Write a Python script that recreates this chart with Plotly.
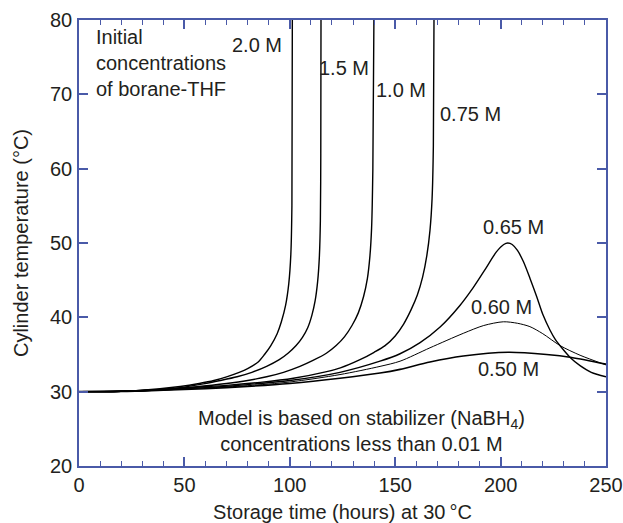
import plotly.graph_objects as go

# hours, temperature (°C)
x_20 = [0, 16, 30, 48, 57, 64, 70, 76, 80, 85, 88, 91, 94, 96, 98, 99.5, 100.5, 101, 101.2]
y_20 = [30, 30.03, 30.2, 30.7, 31.1, 31.5, 32.0, 32.6, 33.1, 34.0, 35.0, 36.2, 37.8, 39.4, 41.6, 44.5, 48.5, 55, 80]

x_15 = [0, 16, 30, 48, 59, 67, 75, 82, 89, 95, 99.3, 103, 106, 108.5, 110.5, 112, 113.2, 114, 114.5, 114.7, 114.8]
y_15 = [30, 30.03, 30.15, 30.55, 31.05, 31.5, 32.0, 32.6, 33.4, 34.3, 35.2, 36.2, 37.3, 38.6, 40.3, 42.2, 44.8, 48.0, 53, 62, 80]

x_10 = [0, 20, 40, 55, 70, 80, 89, 97, 104.8, 111, 117.5, 122, 126, 129.5, 132.5, 135, 136.8, 138, 138.8, 139.4, 139.9]
y_10 = [30, 30.05, 30.3, 30.65, 31.1, 31.5, 32.0, 32.6, 33.4, 34.2, 35.2, 36.2, 37.4, 38.9, 40.6, 42.8, 45.2, 48.2, 52, 60, 80]

x_075 = [0, 20, 40, 55, 70, 85.9, 101.7, 117.5, 124, 133.3, 140, 145.2, 150, 154, 157.5, 160.5, 163, 165, 166.5, 167.5, 168.1, 168.4]
y_075 = [30, 30.05, 30.3, 30.6, 30.85, 31.25, 31.8, 32.7, 33.2, 34.3, 35.3, 36.2, 37.5, 39.1, 41.0, 43.0, 45.4, 48.3, 51.7, 56, 63, 80]

x_065 = [0, 20, 40, 60, 80, 100, 123.8, 142.8, 152.3, 161.8, 171.3, 180.7, 187, 193, 198, 201.5, 203.4, 205.5, 208, 210.8, 214, 217.1, 220, 223.4, 226, 229, 233, 237.7, 243, 250]
y_065 = [30, 30.05, 30.25, 30.55, 30.95, 31.5, 32.6, 34.1, 35.1, 36.6, 38.7, 41.6, 44.0, 46.6, 48.8, 49.8, 50.0, 49.8, 49.0, 47.5, 45.2, 42.8, 40.4, 38.3, 37.0, 35.9, 34.6, 33.5, 32.6, 32.0]

x_060 = [0, 20, 40, 60, 80, 100, 123.8, 142.8, 152.3, 166.5, 182.3, 192, 201.3, 208, 213.9, 220, 228.2, 237.7, 250]
y_060 = [30, 30.04, 30.22, 30.5, 30.8, 31.3, 32.3, 33.4, 34.1, 35.9, 37.85, 38.9, 39.4, 39.2, 38.75, 37.8, 36.2, 34.9, 33.6]

x_050 = [0, 20, 40, 60, 80, 100, 123.8, 142.8, 152.3, 166.5, 182.3, 203.7, 221.8, 233.7, 250]
y_050 = [30, 30.03, 30.2, 30.4, 30.7, 31.1, 31.8, 32.5, 33.0, 34.0, 34.8, 35.3, 35.0, 34.6, 33.7]

series = [(x_20, y_20, 1.4), (x_15, y_15, 1.4), (x_10, y_10, 1.4), (x_075, y_075, 1.4),
          (x_065, y_065, 1.4), (x_060, y_060, 1.0), (x_050, y_050, 1.6)]

labels = ["2.0 M", "1.5 M", "1.0 M", "0.75 M", "0.65 M", "0.60 M", "0.50 M"]
label_x = [84.4, 125.8, 152.8, 185.5, 205.9, 200.5, 203.7]
label_y = [76.6, 73.5, 70.6, 67.3, 52.2, 41.35, 33.0]

x_ticks = [0, 50, 100, 150, 200, 250]
y_ticks = [20, 30, 40, 50, 60, 70, 80]

FONT = "Liberation Sans, Arial, Helvetica, sans-serif"
TXT = "#231f20"
AX = "#4a5aa8"
FS = 20

fig = go.Figure()
for xs, ys, w in series:
    fig.add_trace(go.Scatter(x=xs, y=ys, mode="lines",
                             line=dict(color="black", width=w, shape="spline", smoothing=0.8),
                             showlegend=False, hoverinfo="skip"))

for t, lx, ly in zip(labels, label_x, label_y):
    fig.add_annotation(x=lx, y=ly, text=t, showarrow=False,
                       font=dict(family=FONT, size=FS, color=TXT))

fig.add_annotation(x=7.0, y=79.4, xanchor="left", yanchor="top", align="left",
                   text="Initial<br>concentrations<br>of borane-THF", showarrow=False,
                   font=dict(family=FONT, size=FS, color=TXT))

fig.add_annotation(x=134, y=24.7, align="center",
                   text="Model is based on stabilizer (NaBH<sub>4</sub>)<br>concentrations less than 0.01 M",
                   showarrow=False, font=dict(family=FONT, size=FS, color=TXT))

fig.update_layout(
    width=623, height=523,
    margin=dict(l=79, r=17, t=20, b=57),
    plot_bgcolor="white", paper_bgcolor="white",
    font=dict(family=FONT, size=FS, color=TXT),
)
fig.update_xaxes(range=[0, 250], tickvals=x_ticks, showgrid=False, zeroline=False,
                 automargin=False,
                 showline=True, linecolor=AX, linewidth=1.5, mirror="ticks",
                 ticks="inside", ticklen=9, tickcolor=AX, tickwidth=1.5,
                 ticklabelstandoff=0,
                 minor=dict(dtick=10, ticks="inside", ticklen=5, tickcolor=AX, tickwidth=1.2),
                 title=dict(text="Storage time (hours) at 30\u2009°C", standoff=14,
                            font=dict(family=FONT, size=FS, color=TXT)),
                 tickfont=dict(family=FONT, size=FS, color=TXT))
fig.update_yaxes(range=[20, 80], tickvals=y_ticks, showgrid=False, zeroline=False,
                 automargin=False,
                 showline=True, linecolor=AX, linewidth=1.5, mirror="ticks",
                 ticks="inside", ticklen=9, tickcolor=AX, tickwidth=1.5,
                 ticklabelstandoff=1,
                 title=dict(text="Cylinder temperature (°C)", standoff=16,
                            font=dict(family=FONT, size=FS, color=TXT)),
                 tickfont=dict(family=FONT, size=FS, color=TXT))

fig.write_html("out.html")
